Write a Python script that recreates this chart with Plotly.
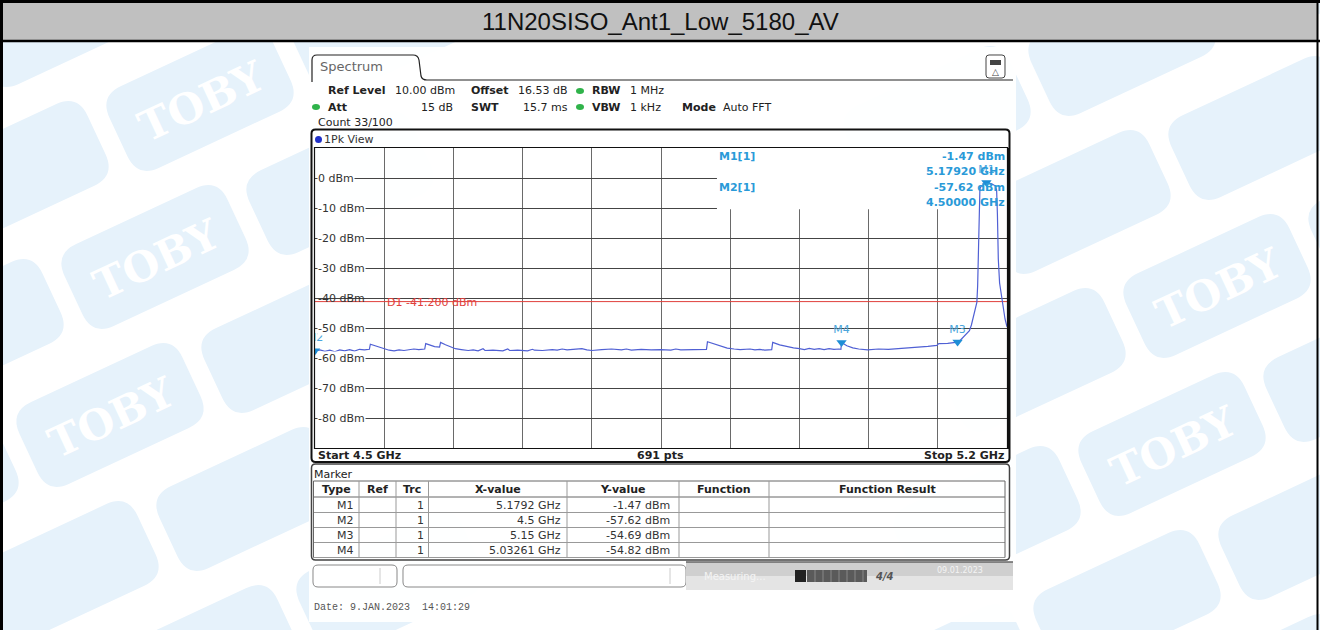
import math
import plotly.graph_objects as go

# ---------------- data ----------------
title_text = "11N20SISO_Ant1_Low_5180_AV"
start_ghz = 4.5
stop_ghz = 5.2
n_points = 691
ref_level_dbm = 10.0
bottom_dbm = -90.0
ylabel_values = [0, -10, -20, -30, -40, -50, -60, -70, -80]
d1_level_dbm = -41.2

freq_mhz = [4500, 4505, 4510, 4515, 4520, 4525, 4530, 4535, 4540, 4545, 4550, 4555,
            4556, 4560, 4565, 4570, 4575, 4580, 4585, 4590, 4595, 4600, 4605, 4611,
            4612, 4616, 4621, 4626, 4627, 4632, 4637, 4642, 4648, 4655, 4660, 4665,
            4670, 4672, 4680, 4690, 4695, 4697, 4705, 4715, 4720, 4722, 4730, 4740,
            4745, 4750, 4755, 4765, 4770, 4775, 4780, 4790, 4800, 4810, 4815, 4820,
            4830, 4840, 4850, 4860, 4865, 4870, 4880, 4890, 4896, 4897, 4904, 4910,
            4917, 4924, 4930, 4940, 4945, 4950, 4955, 4962, 4963, 4970, 4977, 4984,
            4990, 4995, 5000, 5005, 5010, 5015, 5020, 5025, 5030, 5032, 5032.6, 5038,
            5044, 5050, 5059, 5065, 5070, 5080, 5090, 5100, 5110, 5120, 5129, 5131,
            5140, 5146, 5150, 5153, 5156, 5159, 5162, 5164, 5166, 5168, 5169.5, 5170.3,
            5171, 5171.8, 5172.6, 5174, 5176, 5179.2, 5182, 5185, 5188, 5189.5, 5190.3,
            5191.2, 5192.5, 5194, 5196, 5198, 5200]
level_dbm = [-57.62, -57.3, -57.8, -57.4, -57.9, -57.3, -57.6, -57.2, -57.7, -57.1, -57.3, -57.1,
             -55.4, -55.8, -56.4, -57.0, -57.4, -57.6, -57.3, -57.5, -57.2, -57.0, -57.2, -57.0,
             -55.2, -55.6, -56.2, -56.4, -54.8, -55.6, -56.3, -56.9, -57.2, -57.5, -57.3, -57.6,
             -56.9, -57.5, -57.4, -57.6, -57.0, -57.5, -57.4, -57.6, -57.1, -57.4, -57.5, -57.2,
             -57.4, -57.0, -57.3, -57.1, -56.9, -57.3, -57.5, -57.2, -57.0, -57.3, -57.0, -57.4,
             -57.1, -57.3, -57.2, -57.4, -57.0, -57.3, -57.2, -57.3, -57.1, -54.6, -55.4, -56.1,
             -56.7, -57.0, -57.2, -57.0, -57.3, -57.1, -57.4, -57.2, -54.8, -55.6, -56.2, -56.6,
             -56.9, -57.2, -56.8, -57.1, -56.9, -57.2, -56.9, -57.1, -57.0, -57.1, -54.82, -55.9,
             -56.6, -57.0, -57.3, -57.2, -57.0, -57.1, -56.9, -56.6, -56.3, -56.1, -55.8, -55.2,
             -55.1, -54.9, -54.69, -54.0, -53.0, -51.9, -50.9, -49.0, -46.5, -44.0, -41.5, -36.0,
             -22.0, -9.0, -3.6, -2.7, -2.1, -1.47, -1.7, -2.0, -2.6, -4.0, -12.0,
             -27.0, -35.0, -38.5, -43.5, -47.0, -49.6]

marker_names = ["M1", "M2", "M3", "M4"]
marker_freq_ghz = [5.1792, 4.5, 5.15, 5.03261]
marker_level_dbm = [-1.47, -57.62, -54.69, -54.82]
marker_trc = [1, 1, 1, 1]

table_headers = ["Type", "Ref", "Trc", "X-value", "Y-value", "Function", "Function Result"]

# ---------------- geometry helpers ----------------
W, H = 1320, 630
PX_L, PX_R, PY_T, PY_B = 315, 1007, 148, 448
PANEL = (309, 47, 1016, 622)


def px(x):
    return x / W


def py(y):
    return 1 - y / H


shapes = []
annotations = []


def rect(x0, y0, x1, y1, fill=None, line_color=None, lw=1, layer="above", opacity=1):
    shapes.append(dict(type="rect", xref="paper", yref="paper",
                       x0=px(x0), x1=px(x1), y0=py(y1), y1=py(y0),
                       fillcolor=fill if fill else "rgba(0,0,0,0)",
                       line=dict(color=line_color if line_color else "rgba(0,0,0,0)", width=lw if line_color else 0),
                       layer=layer, opacity=opacity))


def line(x0, y0, x1, y1, color="#000", lw=1, layer="above"):
    shapes.append(dict(type="line", xref="paper", yref="paper",
                       x0=px(x0), y0=py(y0), x1=px(x1), y1=py(y1),
                       line=dict(color=color, width=lw), layer=layer))


def path_str(cmds, close=True):
    out = []
    for c in cmds:
        out.append(c[0] + " " + " ".join("%.5f,%.5f" % (px(x), py(y)) for x, y in c[1:]))
    return " ".join(out) + (" Z" if close else "")


def rrect(x0, y0, x1, y1, r, fill=None, line_color="#000", lw=1, layer="above"):
    cmds = [("M", (x0 + r, y0)), ("L", (x1 - r, y0)), ("Q", (x1, y0), (x1, y0 + r)),
            ("L", (x1, y1 - r)), ("Q", (x1, y1), (x1 - r, y1)), ("L", (x0 + r, y1)),
            ("Q", (x0, y1), (x0, y1 - r)), ("L", (x0, y0 + r)), ("Q", (x0, y0), (x0 + r, y0))]
    shapes.append(dict(type="path", xref="paper", yref="paper", path=path_str(cmds),
                       fillcolor=fill if fill else "rgba(0,0,0,0)",
                       line=dict(color=line_color, width=lw), layer=layer))


def text(x, y, s, size=11, color="#222", family="DejaVu Sans", anchor="left", valign="middle", bg=None,
         yref="paper"):
    a = dict(xref="paper", yref=yref, x=px(x), y=(py(y) if yref == "paper" else y), text=s,
             showarrow=False, xanchor=anchor, yanchor=valign, borderpad=0,
             font=dict(size=size, color=color, family=family))
    if bg:
        a["bgcolor"] = bg
    annotations.append(a)


# ---------------- watermarks ----------------
def logo(cx, cy, w=180, h=90, r=24, ang=25):
    a = math.radians(ang)

    def tr(u, v):
        return (cx + u * math.cos(a) + v * math.sin(a), cy - u * math.sin(a) + v * math.cos(a))
    hw, hh = w / 2, h / 2
    cmds = [("M", tr(-hw + r, -hh)), ("L", tr(hw - r, -hh)), ("Q", tr(hw, -hh), tr(hw, -hh + r)),
            ("L", tr(hw, hh - r)), ("Q", tr(hw, hh), tr(hw - r, hh)), ("L", tr(-hw + r, hh)),
            ("Q", tr(-hw, hh), tr(-hw, hh - r)), ("L", tr(-hw, -hh + r)), ("Q", tr(-hw, -hh), tr(-hw + r, -hh))]
    shp = dict(type="path", xref="paper", yref="paper", path=path_str(cmds),
               fillcolor="#e6f2fb", line=dict(color="#e6f2fb", width=0), layer="below")
    tx0, tx1, ty0, ty1 = cx - 78, cx + 78, cy - 52, cy + 52
    in_img = tx0 > 2 and tx1 < 1317 and ty0 > 43 and ty1 < 630
    off_panel = tx1 < PANEL[0] or tx0 > PANEL[2]
    if in_img and off_panel:
        shp["label"] = dict(text="<b>TOBY</b>", textangle=-ang, textposition="middle center",
                            font=dict(family="DejaVu Serif", size=42, color="white"))
    shapes.append(shp)


lat_a = (-45, 158)
lat_b = (140, 84)
for (ox, oy, xmin, xmax) in [(200, 99, -150, 420), (1262, 128, 930, 1470)]:
    for i in range(-6, 7):
        for j in range(-6, 7):
            cx = ox + i * lat_a[0] + j * lat_b[0]
            cy = oy + i * lat_a[1] + j * lat_b[1]
            if xmin < cx < xmax and -70 < cy < 700:
                logo(cx, cy)

rect(*PANEL, fill="white", layer="below", opacity=0.94)

# ---------------- header band ----------------
rect(0, 1, 1318, 41, fill="#c0c0c0", layer="below")
line(0, 1.5, 1320, 1.5, "#000", 3)
line(0, 41, 1320, 41, "#000", 2.5)
line(1.5, 0, 1.5, 630, "#000", 3)
line(1317.5, 0, 1317.5, 630, "#000", 2)
text(660, 22, title_text, size=24, color="#111", family="Liberation Sans", anchor="center")

# ---------------- instrument header ----------------
tab_cmds = [("M", (312, 82)), ("L", (312, 60)), ("Q", (312, 55), (317, 55)), ("L", (413, 55)),
            ("Q", (418, 55), (419, 60)), ("L", (421, 76)), ("Q", (422, 80), (427, 80)), ("L", (1013, 80))]
shapes.append(dict(type="path", xref="paper", yref="paper", path=path_str(tab_cmds, close=False),
                   line=dict(color="#222", width=1.2), layer="above"))
text(319, 67, "Spectrum", size=13, color="#666")
rrect(986, 55, 1005, 78, 3, fill="white", line_color="#444", lw=1)
rect(990, 60, 1001, 65, fill="#444")
text(995.5, 72, "△", size=9, color="#444", anchor="center")

green = "#2fb34a"
for (gx, gy) in [(580, 91), (316, 107), (580, 107)]:
    shapes.append(dict(type="circle", xref="paper", yref="paper", x0=px(gx - 4), x1=px(gx + 4),
                       y0=py(gy + 3), y1=py(gy - 3), fillcolor=green, line=dict(width=0)))
text(327, 91, "<b>Ref Level</b>")
text(394, 91, "%.2f dBm" % ref_level_dbm)
text(470, 91, "<b>Offset</b>")
text(517, 91, "16.53 dB")
text(591, 91, "<b>RBW</b>")
text(629, 91, "1 MHz")
text(327, 107, "<b>Att</b>")
text(454, 107, "15 dB", anchor="right")
text(470, 107, "<b>SWT</b>")
text(522, 107, "15.7 ms")
text(591, 107, "<b>VBW</b>")
text(629, 107, "1 kHz")
text(681, 107, "<b>Mode</b>")
text(722, 107, "Auto FFT")
text(317, 123, "Count 33/100")

# ---------------- spectrum panel ----------------
rrect(311.5, 129.5, 1009.5, 462, 4, line_color="#111", lw=2)
shapes.append(dict(type="circle", xref="paper", yref="paper", x0=px(315), x1=px(322),
                   y0=py(143), y1=py(136), fillcolor="#2030c8", line=dict(width=0)))
text(323, 139.5, "1Pk View", color="#333")
rect(314.5, 147.5, 1007.5, 448.5, line_color="#111", lw=1.2)
line(1008.5, 148, 1008.5, 449, "#111", 2)
shapes.append(dict(type="rect", xref="x", yref="y", x0=4.9066, x1=stop_ghz, y0=-10.4, y1=ref_level_dbm,
                   fillcolor="white", line=dict(width=0), layer="between"))

for v in ylabel_values:
    text(317, v, "%d dBm" % v, size=11, color="#333", bg=None if v == -40 else "white", yref="y")

text(386, 302, "D1 -41.200 dBm", size=11, color="#e0403c")

cyan = "#2a9ad8"
m1 = marker_names.index("M1")
m2 = marker_names.index("M2")
text(718, 156, "<b>%s[1]</b>" % marker_names[m1], color=cyan)
text(1006, 156, "<b>%.2f dBm</b>" % marker_level_dbm[m1], color=cyan, anchor="right")
text(1006, 171.5, "<b>%.5f GHz</b>" % marker_freq_ghz[m1], color=cyan, anchor="right")
text(718, 187.5, "<b>%s[1]</b>" % marker_names[m2], color=cyan)
text(1006, 187.5, "<b>%.2f dBm</b>" % marker_level_dbm[m2], color=cyan, anchor="right")
text(1006, 202.5, "<b>%.5f GHz</b>" % marker_freq_ghz[m2], color=cyan, anchor="right")

text(317, 455, "<b>Start %g GHz</b>" % start_ghz)
text(660, 455, "<b>%d pts</b>" % n_points, anchor="center")
text(1005, 455, "<b>Stop %g GHz</b>" % stop_ghz, anchor="right")

# ---------------- marker table ----------------
rrect(311.5, 464, 1009.5, 560, 4, line_color="#444", lw=1.5)
text(313, 474, "Marker", color="#222")
cols = [313.5, 359, 396, 428.5, 567, 679, 769, 1005]
row_lines = [481, 497, 512.5, 527.5, 542.5, 557.5]
for yv in row_lines:
    line(cols[0], yv, cols[-1], yv, "#999" if yv not in (481, 497) else "#666", 1)
for xv in cols:
    line(xv, 481, xv, 557.5, "#999" if xv not in (cols[0], cols[-1]) else "#666", 1)
for k, h in enumerate(table_headers):
    text((cols[k] + cols[k + 1]) / 2, 489, "<b>%s</b>" % h, anchor="center")
row_y = [505, 520, 535, 550]
for k in range(len(marker_names)):
    yv = row_y[k]
    text(cols[1] - 4, yv, marker_names[k], anchor="right", color="#333")
    text(cols[3] - 4, yv, "%d" % marker_trc[k], anchor="right", color="#333")
    text(cols[4] - 5, yv, "%g GHz" % marker_freq_ghz[k], anchor="right", color="#333")
    text(cols[5] - 8, yv, "%.2f dBm" % marker_level_dbm[k], anchor="right", color="#333")

# ---------------- status bar ----------------
rrect(313, 565, 397, 587, 5, fill="white", line_color="#888", lw=1)
line(380, 568, 380, 584, "#ccc", 1)
rrect(403, 565, 686, 587, 5, fill="white", line_color="#888", lw=1)
line(670, 568, 670, 584, "#ccc", 1)
rect(686, 562, 1013, 576, fill="#cfcfcf", layer="above")
rect(686, 576, 1013, 590, fill="#e4e4e4", layer="above")
line(686, 562, 1013, 562, "#666", 1.5)
text(735, 576, "Measuring...", size=10, color="#f4f4f4", anchor="center")
rect(795, 570, 806, 582, fill="#222")
rect(807, 570, 867, 582, fill="#5a5a5a")
for xb in range(815, 867, 8):
    line(xb, 570, xb, 582, "#888", 1)
text(884, 576, "<b><i>4/4</i></b>", size=10, color="#555", anchor="center")
text(960, 570, "09.01.2023", size=8, color="#f4f4f4", anchor="center")

text(313, 607, "Date: 9.JAN.2023\u00a0 14:01:29", size=10, color="#555", family="Liberation Mono")

# ---------------- traces ----------------
fig = go.Figure()
fig.add_trace(go.Scatter(x=[start_ghz, stop_ghz], y=[d1_level_dbm, d1_level_dbm], mode="lines",
                         line=dict(color="#e0403c", width=1), hoverinfo="skip", showlegend=False))
fig.add_trace(go.Scatter(x=[f / 1000 for f in freq_mhz], y=level_dbm, mode="lines",
                         line=dict(color="#5060d4", width=1.2), showlegend=False))
fig.add_trace(go.Scatter(x=marker_freq_ghz, y=marker_level_dbm, mode="markers+text",
                         text=marker_names, textposition="top center",
                         textfont=dict(color="#4aa6dc", size=11, family="DejaVu Sans"),
                         marker=dict(symbol="triangle-down", size=9, color="#1e8ed6"),
                         cliponaxis=True, showlegend=False))

fig.update_layout(
    width=W, height=H, margin=dict(l=0, r=0, t=0, b=0),
    paper_bgcolor="white", plot_bgcolor="white",
    xaxis=dict(domain=[PX_L / W, PX_R / W], range=[start_ghz, stop_ghz], tick0=start_ghz,
               dtick=(stop_ghz - start_ghz) / 10, showgrid=True, gridcolor="#6a6a6a", gridwidth=1,
               showticklabels=False, zeroline=False, showline=False, ticks=""),
    yaxis=dict(domain=[1 - PY_B / H, 1 - PY_T / H], range=[bottom_dbm, ref_level_dbm], dtick=10,
               showgrid=True, gridcolor="#444", gridwidth=1, showticklabels=False, zeroline=False,
               showline=False, ticks=""),
    shapes=shapes, annotations=annotations, showlegend=False,
)
fig.write_html("out.html", config={"displayModeBar": False},
               post_script="document.body.style.margin='0px';")
